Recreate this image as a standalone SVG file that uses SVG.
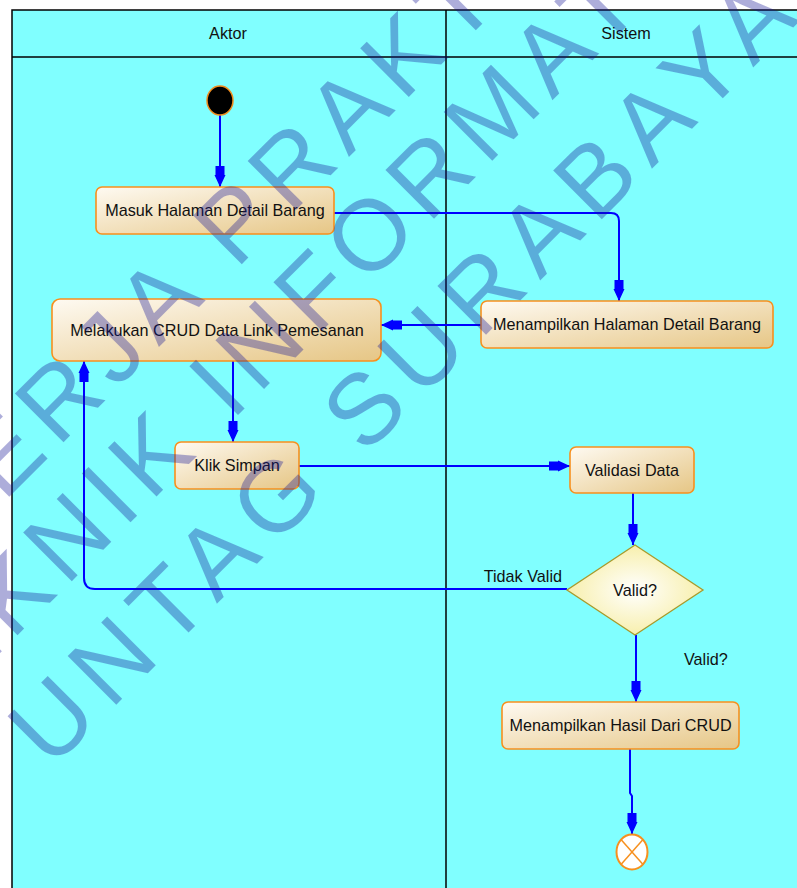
<svg xmlns="http://www.w3.org/2000/svg" width="797" height="888" viewBox="0 0 797 888">
<defs>
<linearGradient id="boxg" x1="0" y1="0" x2="1" y2="1">
<stop offset="0" stop-color="#fefaf2"/>
<stop offset="1" stop-color="#e6c685"/>
</linearGradient>
<radialGradient id="diag" cx="0.5" cy="0.5" r="0.6">
<stop offset="0" stop-color="#ffffff"/>
<stop offset="1" stop-color="#f6ec9c"/>
</radialGradient>
<marker id="arr" viewBox="-22 -7 24 14" refX="0" refY="0" markerWidth="24" markerHeight="14" markerUnits="userSpaceOnUse" orient="auto">
<path d="M-21,-4.5 L-12,-4.5 L-12,-5.5 L0,0 L-12,5.5 L-12,4.5 L-21,4.5 Z" fill="#0000ff"/>
</marker>
<style>
.lbl{font-family:"Liberation Sans",Arial,sans-serif;font-size:16.2px;fill:#111;}
.box{fill:url(#boxg);stroke:#f7901e;stroke-width:1.6;}
.conn{fill:none;stroke:#0000ff;stroke-width:2;}
.wm{font-family:"Liberation Sans",Arial,sans-serif;font-size:100px;fill:#141496;fill-opacity:0.35;}
</style>
</defs>
<rect x="0" y="0" width="797" height="888" fill="#ffffff"/>
<g id="pool">
<rect x="12" y="10" width="800" height="890" fill="#80ffff" stroke="#000" stroke-width="1.5"/>
<line x1="12" y1="57" x2="797" y2="57" stroke="#000" stroke-width="1.5"/>
<line x1="446" y1="10" x2="446" y2="888" stroke="#000" stroke-width="1.5"/>
<text class="lbl" x="228" y="39" text-anchor="middle">Aktor</text>
<text class="lbl" x="626" y="39" text-anchor="middle">Sistem</text>
</g>
<g id="connectors">
<path class="conn" d="M220,115 V187" marker-end="url(#arr)"/>
<path class="conn" d="M334,213 H611 Q619,213 619,221 V301" marker-end="url(#arr)"/>
<path class="conn" d="M481,325 H381" marker-end="url(#arr)"/>
<path class="conn" d="M233,361 V442" marker-end="url(#arr)"/>
<path class="conn" d="M299,466 H570" marker-end="url(#arr)"/>
<path class="conn" d="M633,493 V545" marker-end="url(#arr)"/>
<path class="conn" d="M567,589 H95 Q84,589 84,578 V361" marker-end="url(#arr)"/>
<path class="conn" d="M636,635 V702" marker-end="url(#arr)"/>
<path class="conn" d="M630,749 V793 L632,796 V834" marker-end="url(#arr)"/>
<text class="lbl" x="562" y="582" text-anchor="end">Tidak Valid</text>
<text class="lbl" x="684" y="665">Valid?</text>
</g>
<g id="start">
<ellipse cx="220" cy="100.5" rx="13" ry="14.5" fill="#000" stroke="#f08c1e" stroke-width="1.5"/>
</g>
<g id="masuk">
<rect class="box" x="96" y="187" width="238" height="47" rx="6"/>
<text class="lbl" x="215" y="216" text-anchor="middle">Masuk Halaman Detail Barang</text>
</g>
<g id="tampilDetail">
<rect class="box" x="481" y="301" width="292" height="47" rx="6"/>
<text class="lbl" x="627" y="330" text-anchor="middle">Menampilkan Halaman Detail Barang</text>
</g>
<g id="crud">
<rect class="box" x="52" y="299" width="329" height="62" rx="8"/>
<text class="lbl" x="217" y="335.5" text-anchor="middle">Melakukan CRUD Data Link Pemesanan</text>
</g>
<g id="simpan">
<rect class="box" x="175" y="442" width="124" height="47" rx="6"/>
<text class="lbl" x="237" y="471" text-anchor="middle">Klik Simpan</text>
</g>
<g id="validasi">
<rect class="box" x="570" y="447" width="124" height="46" rx="6"/>
<text class="lbl" x="632" y="476" text-anchor="middle">Validasi Data</text>
</g>
<g id="decision">
<polygon points="635,545 703,590 635,635 567,590" fill="url(#diag)" stroke="#a89a2c" stroke-width="1.3"/>
<text class="lbl" x="635" y="596" text-anchor="middle">Valid?</text>
</g>
<g id="hasil">
<rect class="box" x="502" y="702" width="237" height="47" rx="6"/>
<text class="lbl" x="620.5" y="731" text-anchor="middle">Menampilkan Hasil Dari CRUD</text>
</g>
<g id="end">
<ellipse cx="632" cy="852" rx="15.5" ry="17.5" fill="#fff" stroke="#f7901e" stroke-width="2"/>
<line x1="621" y1="839.6" x2="643" y2="864.4" stroke="#f7901e" stroke-width="1.5"/>
<line x1="643" y1="839.6" x2="621" y2="864.4" stroke="#f7901e" stroke-width="1.5"/>
</g>
<g id="watermark">
<text class="wm" transform="translate(240,215) rotate(-45)" x="0" y="36" text-anchor="middle" textLength="895" lengthAdjust="spacing">KERJA PRAKTIK</text>
<text class="wm" transform="translate(318,284) rotate(-45)" x="0" y="36" text-anchor="middle" textLength="1233" lengthAdjust="spacing">TEKNIK INFORMATIKA</text>
<text class="wm" transform="translate(400,370) rotate(-45)" x="0" y="36" text-anchor="middle" textLength="1060" lengthAdjust="spacing">UNTAG SURABAYA</text>
</g>
</svg>
